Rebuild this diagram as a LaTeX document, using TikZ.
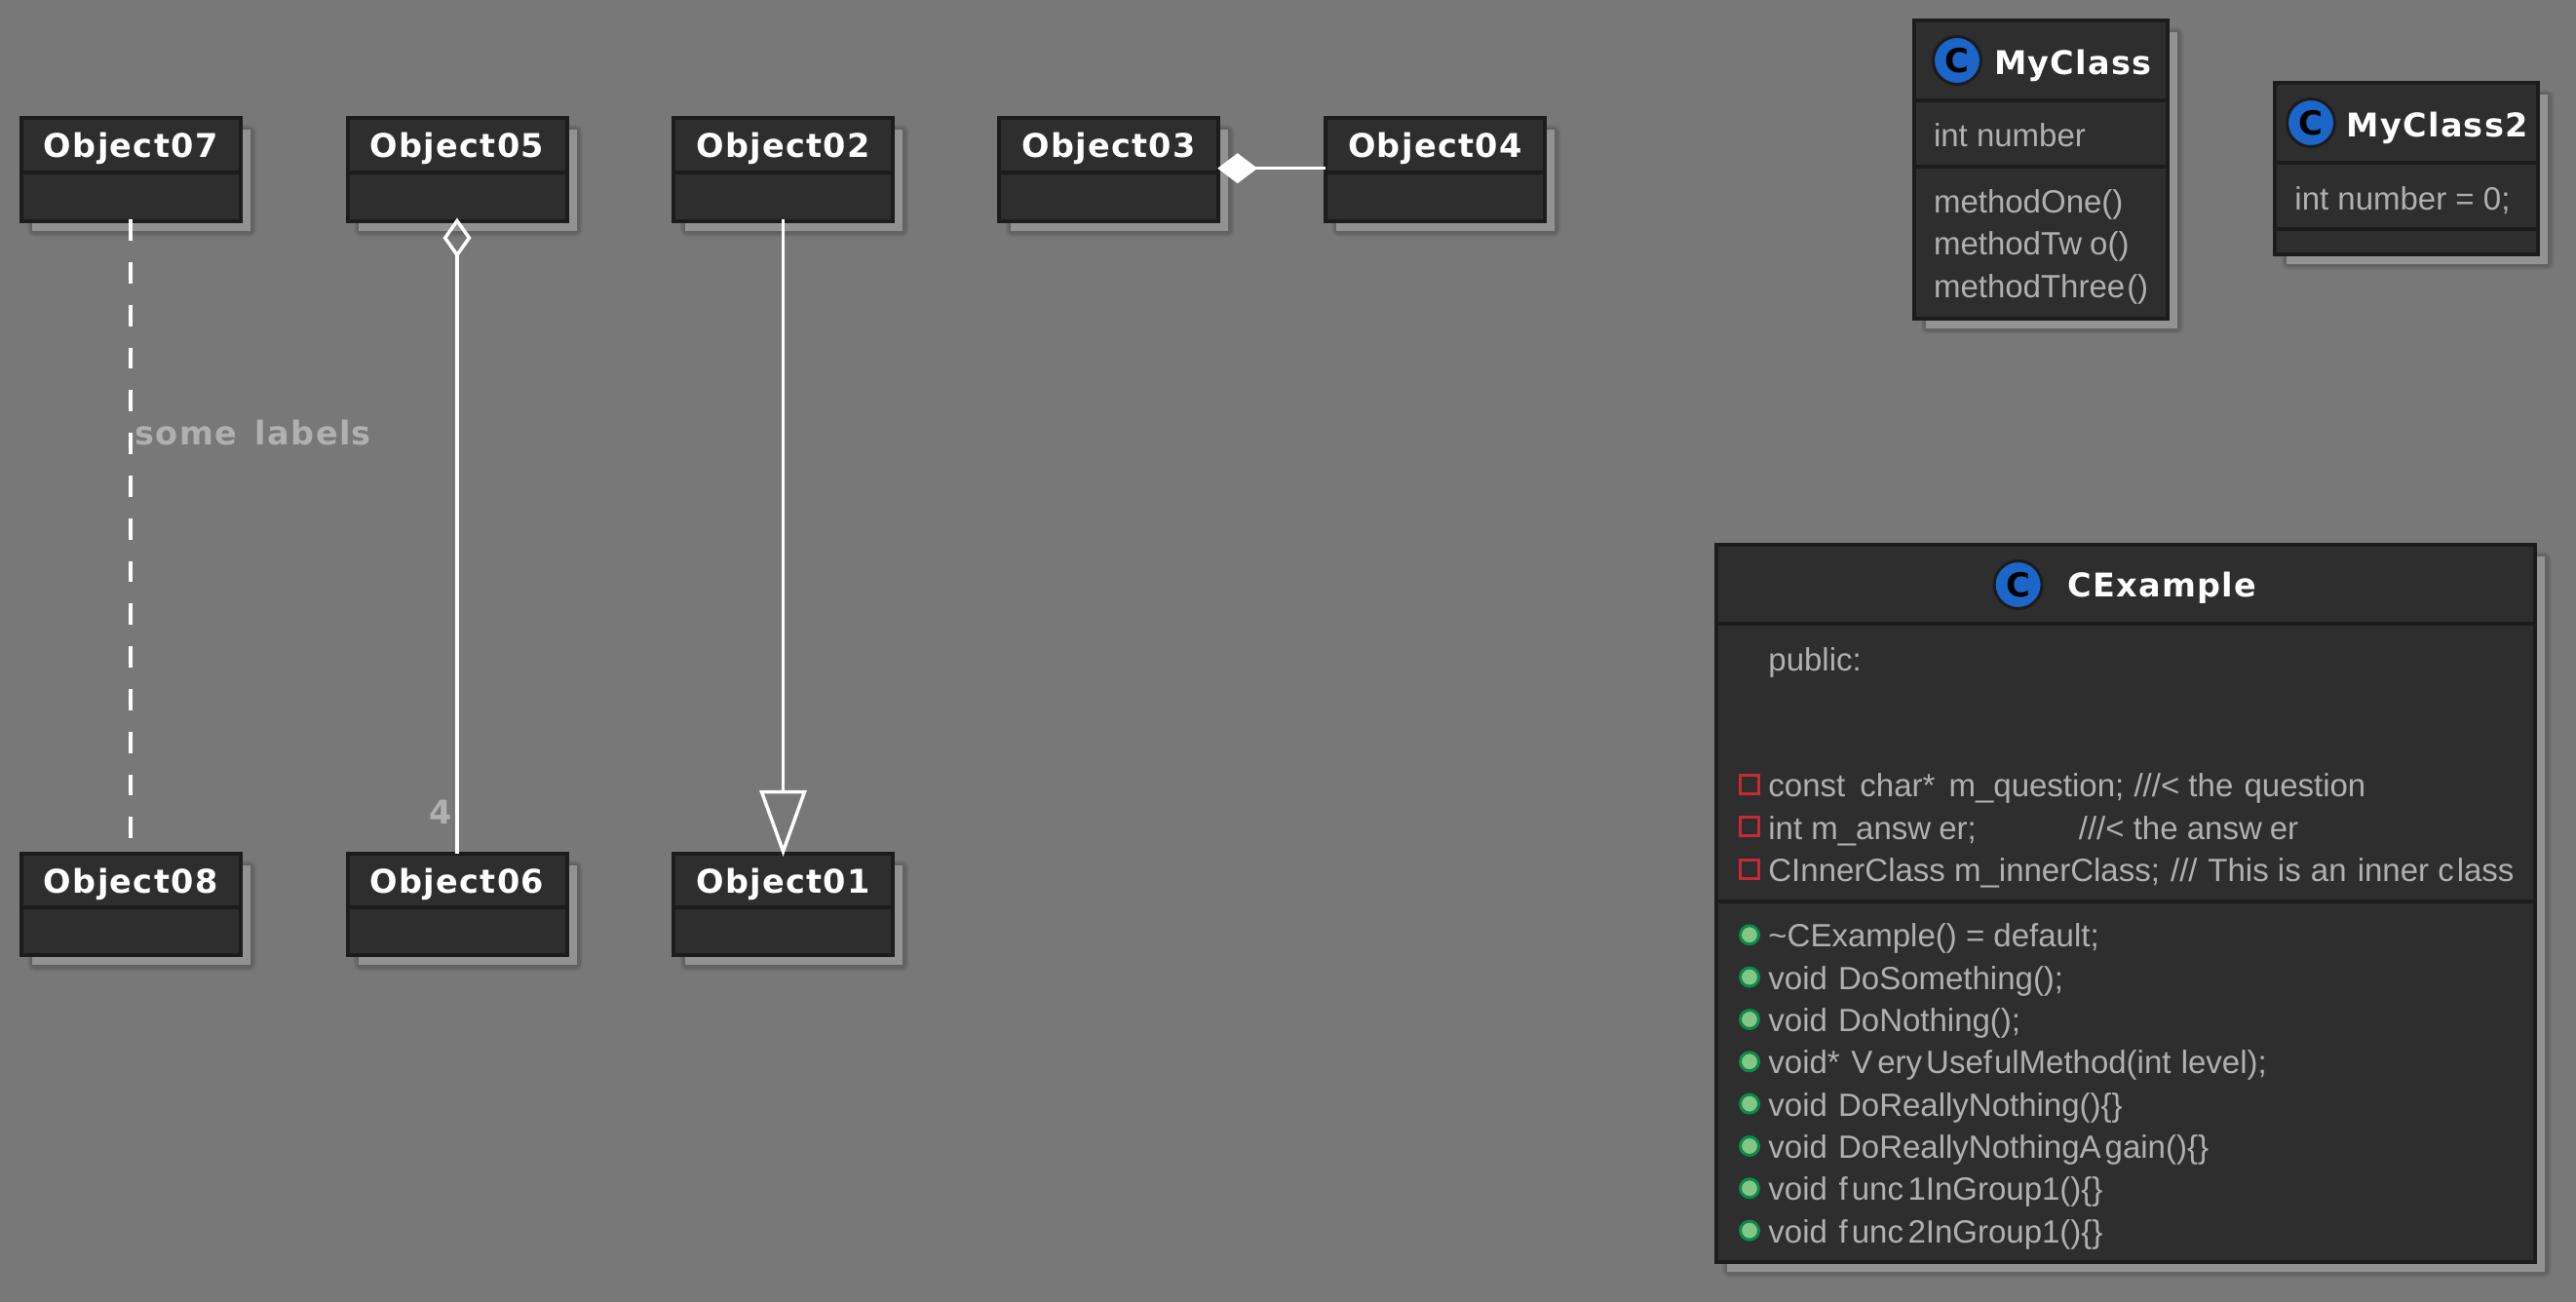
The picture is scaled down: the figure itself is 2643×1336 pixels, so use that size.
\documentclass[tikz,border=0pt]{standalone}
\usepackage{fontspec}
\usetikzlibrary{arrows.meta}
\setmainfont{Liberation Sans}
\newfontfamily\dvfont[LetterSpace=4]{DejaVu Sans}
\newfontfamily\dvplain{DejaVu Sans}
\definecolor{bgc}{HTML}{787878}
\definecolor{boxfill}{HTML}{2E2E2E}
\definecolor{boxline}{HTML}{1C1C1C}
\definecolor{shlight}{HTML}{929292}
\definecolor{shdarkA}{HTML}{727272}
\definecolor{shdarkB}{HTML}{6A6A6A}
\definecolor{shdarkC}{HTML}{636363}
\definecolor{txt}{HTML}{B0B0B0}
\definecolor{cblue}{HTML}{1B66C8}
\definecolor{pred}{HTML}{C62A33}
\definecolor{pgreen}{HTML}{0B8A4C}
\definecolor{pgfill}{HTML}{84C784}
\tikzset{
  umlbox/.style={draw=boxline,fill=boxfill,line width=4pt,inner sep=0pt,outer sep=0pt,rectangle},
  divider/.style={draw=boxline,line width=4pt},
  umltitle/.style={inner sep=0pt,outer sep=0pt,text=white,font=\dvfont\bfseries\fontsize{33.5}{40}\selectfont},
  edgelabel/.style={inner sep=0pt,outer sep=0pt,text=txt,font=\dvfont\bfseries\fontsize{33.5}{40}\selectfont},
  member/.style={anchor=base west,inner sep=0pt,outer sep=0pt,text=txt,font=\fontsize{33}{40}\selectfont},
  cicon/.style={circle,draw=boxline,fill=cblue,line width=3pt,minimum size=49pt,inner sep=0pt,text=black,font=\dvplain\bfseries\fontsize{34}{36}\selectfont},
  privmark/.style={rectangle,draw=pred,line width=3pt,minimum size=19pt,inner sep=0pt},
  pubmark/.style={circle,draw=pgreen,fill=pgfill,line width=3pt,minimum size=19pt,inner sep=0pt},
  conn/.style={draw=white,line width=3.5pt},
}
\newcommand\umlshape[5]{%
  \draw[shdarkA,line width=10pt,rounded corners=3pt] ({#2+11.5},{#3+11.5}) rectangle ({#4+11.5},{#5+11.5});
  \draw[shdarkB,line width=7pt,rounded corners=3pt] ({#2+11.5},{#3+11.5}) rectangle ({#4+11.5},{#5+11.5});
  \draw[shdarkC,line width=4pt,rounded corners=3pt] ({#2+11.5},{#3+11.5}) rectangle ({#4+11.5},{#5+11.5});
  \fill[shlight] ({#2+11.5},{#3+11.5}) rectangle ({#4+10},{#5+10});
  \node[umlbox,minimum width={(#4)-(#2)},minimum height={(#5)-(#3)}] (#1) at ({(#2+#4)/2},{(#3+#5)/2}) {};
}
\newcommand\umlrule[2]{\draw[divider] (#1.west |- 0,#2) -- (#1.east |- 0,#2);}
\begin{document}
\begin{tikzpicture}[x=1pt,y=-1pt]
\useasboundingbox (0,0) rectangle (2643,1336);
\fill[bgc] (0,0) rectangle (2643,1336);
% object boxes
\umlshape{o07}{21.7}{121.4}{246.7}{226.6}\umlrule{o07}{176.7}
\umlshape{o05}{356.5}{121.4}{581.5}{226.6}\umlrule{o05}{176.7}
\umlshape{o02}{691}{121.4}{916}{226.6}\umlrule{o02}{176.7}
\umlshape{o03}{1025}{121.4}{1250.2}{226.6}\umlrule{o03}{176.7}
\umlshape{o04}{1359.8}{121.4}{1584.8}{226.6}\umlrule{o04}{176.7}
\umlshape{o08}{21.7}{876.4}{246.7}{980.4}\umlrule{o08}{930.7}
\umlshape{o06}{356.5}{876.4}{581.5}{980.4}\umlrule{o06}{930.7}
\umlshape{o01}{691}{876.4}{916}{980.4}\umlrule{o01}{930.7}
% classes
\umlshape{myclass}{1964}{21.3}{2223.8}{326.7}\umlrule{myclass}{103.3}\umlrule{myclass}{171.3}
\umlshape{myclassb}{2334.3}{85.3}{2604}{260.7}\umlrule{myclassb}{167.3}\umlrule{myclassb}{235.3}
\umlshape{cexample}{1760.5}{559.3}{2601}{1294.7}\umlrule{cexample}{640.3}\umlrule{cexample}{925}
% connectors
\draw[conn,dash pattern=on 21.9pt off 21.9pt] ([yshift=1.5pt]o07.south) -- (o08.north);
\draw[conn,-{Diamond[open,length=41pt,width=29pt]}] (o06.north) -- ([yshift=3pt]o05.south);
\draw[conn,-{Triangle[open,length=68pt,width=48pt]}] ([yshift=1.5pt]o02.south) -- ([yshift=-2.5pt]o01.north);
\draw[conn,-{Diamond[fill=white,length=41pt,width=31pt]}] ([yshift=1.3pt]o04.west) -- ([xshift=-1pt,yshift=1.3pt]o03.east);
% titles
\node[umltitle,anchor=base] (to07) at (134.2,161.7) {Object07};
\node[umltitle,anchor=base] (to05) at (469,161.7) {Object05};
\node[umltitle,anchor=base] (to02) at (803.5,161.7) {Object02};
\node[umltitle,anchor=base] (to03) at (1137.6,161.7) {Object03};
\node[umltitle,anchor=base] (to04) at (1472.3,161.7) {Object04};
\node[umltitle,anchor=base] (to08) at (134.2,916.5) {Object08};
\node[umltitle,anchor=base] (to06) at (469,916.5) {Object06};
\node[umltitle,anchor=base] (to01) at (803.5,916.5) {Object01};
% edge labels
\node[edgelabel,anchor=base west] (lsome) at (138.4,456) {some\kern6pt{} labels};
\node[edgelabel,anchor=base west] (lfour) at (440.6,845) {4};
% MyClass
\node[cicon] (cia) at (2008,62) {C};
\node[umltitle,anchor=base west] (tmy) at (2046,76) {MyClass};
\node[member] (ma) at (1984,150.7) {int number};
\node[member] (mb) at (1984,218) {methodOne()};
\node[member] (mc) at (1984,261.7) {methodTw\kern8pt o()};
\node[member] (md) at (1984,305) {methodThree\kern2pt()};
% MyClass2
\node[cicon] (cib) at (2371,126) {C};
\node[umltitle,anchor=base west] (tmyb) at (2407.4,140) {MyClass2};
\node[member] (me) at (2354.4,215) {int number = 0;};
% CExample
\node[cicon] (cic) at (2070.6,600) {C};
\node[umltitle,anchor=base west] (tex) at (2121.3,612.7) {CExample};
\node[member] (cpub) at (1814.4,688.3) {public:};
\node[privmark] (pa) at (1795,805) {};
\node[privmark] (pb) at (1795,848.3) {};
\node[privmark] (pc) at (1795,891.6) {};
\node[member] (fa) at (1814.4,817.7) {const\kern6pt{} char*\kern5pt{} m\_question;\kern1pt{} ///< the\kern2pt{} question};
\node[member] (fb) at (1814.4,861) {int m\_answ\kern8pt er;\hspace{105pt}///< the answ\kern8pt er};
\node[member] (fc) at (1814.4,904.3) {CInnerClass m\_innerClass;\kern2pt{} ///\kern1.6pt{} This is\kern1pt{} an\kern2pt{} inner c\kern3pt lass\kern1pt{}};
\node[pubmark] (ga) at (1795,959.3) {};
\node[pubmark] (gb) at (1795,1002.6) {};
\node[pubmark] (gc) at (1795,1046) {};
\node[pubmark] (gd) at (1795,1089.3) {};
\node[pubmark] (ge) at (1795,1132.6) {};
\node[pubmark] (gf) at (1795,1176) {};
\node[pubmark] (gg) at (1795,1219.3) {};
\node[pubmark] (gh) at (1795,1262.6) {};
\node[member] (ha) at (1814.4,971.7) {\textasciitilde CExample() = default;};
\node[member] (hb) at (1814.4,1015) {void\kern2pt{} DoSomething();};
\node[member] (hc) at (1814.4,1058.3) {void\kern2pt{} DoNothing();};
\node[member] (hd) at (1814.4,1101.7) {void*\kern2.4pt{} V\kern5pt ery\kern4pt Usef\kern2pt ulMethod(int\kern1pt{} level);};
\node[member] (he) at (1814.4,1145) {void\kern2pt{} DoReallyNothing()\{\}};
\node[member] (hf) at (1814.4,1188.3) {void\kern2pt{} DoReallyNothingA\kern4pt gain()\{\}};
\node[member] (hg) at (1814.4,1231.7) {void\kern2.6pt{} f\kern4pt unc\kern4.5pt 1InGroup1()\{\}};
\node[member] (hh) at (1814.4,1275) {void\kern2.6pt{} f\kern4pt unc\kern4.5pt 2InGroup1()\{\}};
\end{tikzpicture}
\end{document}
